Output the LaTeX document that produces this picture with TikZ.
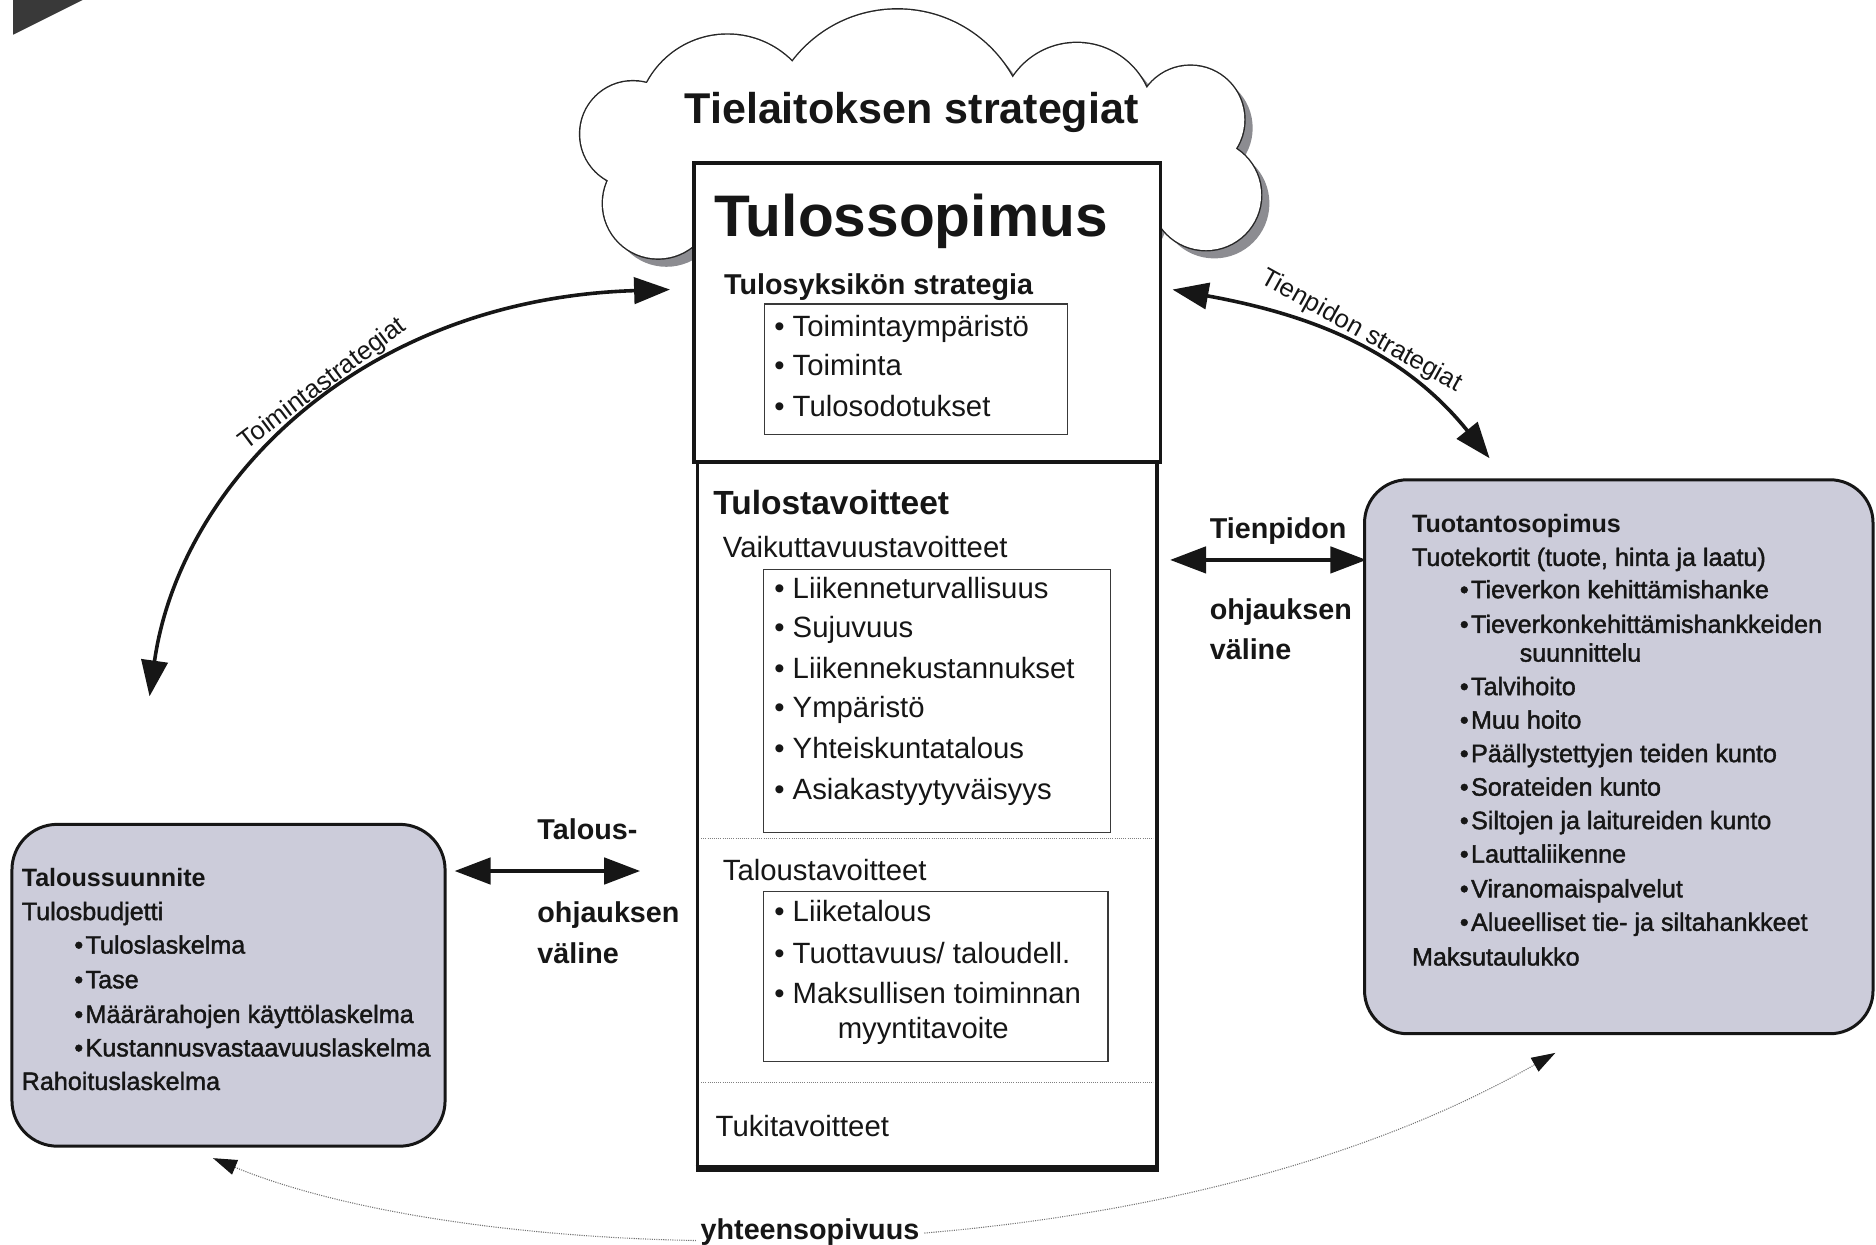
\documentclass[tikz,border=0pt]{standalone}
\usepackage{fontspec}
\setmainfont{Liberation Sans}
\newfontfamily\sidefont[FakeBold=1.6]{Liberation Sans}
\usetikzlibrary{arrows.meta}
\definecolor{boxfill}{RGB}{204,204,218}
\definecolor{ink}{RGB}{22,22,22}
\definecolor{shadowgray}{RGB}{140,140,145}
\newcommand\cloudpts{(550,170) circle[radius=46] (529,112) circle[radius=44] (608,105) circle[radius=76] (750,118) circle[radius=110] (640,150) circle[radius=60] (590,140) circle[radius=40] (900,100) circle[radius=64] (995,100) circle[radius=45] (1008,163) circle[radius=46] (900,160) circle[radius=72]}
\begin{document}
\begin{tikzpicture}[x=1pt,y=-1pt,
  every node/.style={inner sep=0pt, text=ink},
  mainbox/.style={draw=ink, line width=3pt, fill=white, rectangle},
  innerbox/.style={draw=ink!85, line width=1.1pt, rectangle},
  sidebox/.style={draw=ink, line width=2.5pt, fill=boxfill, rounded corners=38pt, rectangle},
  ct/.style={anchor=base west, font=\fontsize{24.5}{29}\selectfont},
  st/.style={anchor=base west, font=\sidefont\fontsize{21}{25}\selectfont},
  stb/.style={anchor=base west, font=\bfseries\fontsize{21}{25}\selectfont},
  lbl/.style={anchor=base west, font=\bfseries\fontsize{24}{28}\selectfont},
  arclbl/.style={font=\fontsize{21.5}{25}\selectfont},
  bigarrow/.style={draw=ink, line width=3pt, {Triangle[length=30pt,width=22pt]}-{Triangle[length=30pt,width=22pt]}},
  dotarrow/.style={draw=black!55, line width=0.9pt, densely dotted, {Triangle[length=20pt,width=13pt,color=ink]}-{Triangle[length=20pt,width=13pt,color=ink]}},
  divider/.style={draw=black!50, line width=0.8pt, densely dotted}
]
\useasboundingbox (0,0) rectangle (1568,1040);

% corner wedge
\fill[ink!85] (11,0) -- (69,0) -- (11,29) -- cycle;

% cloud
\begin{scope}[shift={(7,7)}]
  \fill[shadowgray] \cloudpts;
\end{scope}
\draw[black!85, line width=2.4pt] \cloudpts;
\fill[white] \cloudpts;
\node[anchor=base west, font=\bfseries\fontsize{36}{40}\selectfont] (cloudtitle) at (572,103) {Tielaitoksen strategiat};

% central boxes
\node[mainbox, minimum width=390pt, minimum height=250pt] (topbox) at (775,261) {};
\node[mainbox, minimum width=384pt, minimum height=589pt] (botbox) at (775,680.5) {};
\draw[ink, line width=5.5pt] (botbox.south west) -- (botbox.south east);
\node[innerbox, minimum width=253pt, minimum height=109pt] (inner1) at (765.5,308.5) {};
\node[innerbox, minimum width=290pt, minimum height=220pt] (inner2) at (783,586) {};
\node[innerbox, minimum width=288pt, minimum height=142pt] (inner3) at (782,816) {};
\coordinate (dv1l) at (586,701); \coordinate (dv1r) at (964,701);
\coordinate (dv2l) at (586,905); \coordinate (dv2r) at (964,905);
\draw[divider] (dv1l) -- (dv1r);
\draw[divider] (dv2l) -- (dv2r);

\node[anchor=base west, font=\bfseries\fontsize{49}{55}\selectfont] (ttl) at (597,198) {Tulossopimus};
\node[anchor=base west, font=\bfseries\fontsize{24}{28}\selectfont] (tys) at (605,246) {Tulosyksikön strategia};
\node[ct] (i11) at (647,281) {• Toimintaympäristö};
\node[ct] (i12) at (647,314) {• Toiminta};
\node[ct] (i13) at (647,348) {• Tulosodotukset};

\node[anchor=base west, font=\bfseries\fontsize{28}{32}\selectfont] (tt) at (596,430) {Tulostavoitteet};
\node[ct] (vt) at (604,466) {Vaikuttavuustavoitteet};
\node[ct] (i21) at (647,500) {• Liikenneturvallisuus};
\node[ct] (i22) at (647,533) {• Sujuvuus};
\node[ct] (i23) at (647,567) {• Liikennekustannukset};
\node[ct] (i24) at (647,600) {• Ympäristö};
\node[ct] (i25) at (647,634) {• Yhteiskuntatalous};
\node[ct] (i26) at (647,668) {• Asiakastyytyväisyys};

\node[ct] (talt) at (604,736) {Taloustavoitteet};
\node[ct] (i31) at (647,770) {• Liiketalous};
\node[ct] (i32) at (647,805) {• Tuottavuus/ taloudell.};
\node[ct] (i33) at (647,839) {• Maksullisen toiminnan};
\node[ct] (i34) at (700,868) {myyntitavoite};

\node[ct] (tuki) at (598,950) {Tukitavoitteet};

% left box
\node[sidebox, minimum width=362pt, minimum height=269pt] (leftbox) at (191,823.5) {};
\node[stb] (l1) at (18,741) {Taloussuunnite};
\node[st] (l2) at (18,769) {Tulosbudjetti};
\node[st] (l3) at (62,797) {•\kern2pt Tuloslaskelma};
\node[st] (l4) at (62,826) {•\kern2pt Tase};
\node[st] (l5) at (62,855) {•\kern2pt Määrärahojen käyttölaskelma};
\node[st] (l6) at (62,883) {•\kern2pt Kustannusvastaavuuslaskelma};
\node[st] (l7) at (18,911) {Rahoituslaskelma};

% right box
\node[sidebox, rounded corners=36pt, minimum width=425pt, minimum height=463pt] (rightbox) at (1353,632.5) {};
\node[stb] (r1) at (1180,445) {Tuotantosopimus};
\node[st] (r2) at (1180,473) {Tuotekortit (tuote, hinta ja laatu)};
\node[st] (r3) at (1220,500) {•\kern2pt Tieverkon kehittämishanke};
\node[st] (r4) at (1220,529) {•\kern2pt Tieverkonkehittämishankkeiden};
\node[st] (r5) at (1270,553) {suunnittelu};
\node[st] (r6) at (1220,581) {•\kern2pt Talvihoito};
\node[st] (r7) at (1220,609) {•\kern2pt Muu hoito};
\node[st] (r8) at (1220,637) {•\kern2pt Päällystettyjen teiden kunto};
\node[st] (r9) at (1220,665) {•\kern2pt Sorateiden kunto};
\node[st] (r10) at (1220,693) {•\kern2pt Siltojen ja laitureiden kunto};
\node[st] (r11) at (1220,721) {•\kern2pt Lauttaliikenne};
\node[st] (r12) at (1220,750) {•\kern2pt Viranomaispalvelut};
\node[st] (r13) at (1220,778) {•\kern2pt Alueelliset tie- ja siltahankkeet};
\node[st] (r14) at (1180,807) {Maksutaulukko};

% curved arrows
\coordinate (a1s) at (125,582);
\coordinate (a1e) at (560,242);
\draw[bigarrow] (a1s) .. controls (150,405) and (300,250) .. (a1e);
\node[arclbl, rotate=37] (lblT) at (270,321) {Toimintastrategiat};

\coordinate (a2s) at (980,242);
\coordinate (a2e) at (1245,383);
\draw[bigarrow] (a2s) .. controls (1090,262) and (1170,290) .. (a2e);
\node[arclbl, rotate=-29] (lblP) at (1138,277) {Tienpidon strategiat};

% horizontal arrows
\coordinate (h1l) at (978,468);
\coordinate (h1r) at (1142,468);
\draw[bigarrow] (h1l) -- (h1r);
\node[lbl] (tp1) at (1011,450) {Tienpidon};
\node[lbl] (tp2) at (1011,518) {ohjauksen};
\node[lbl] (tp3) at (1011,551) {väline};

\coordinate (h2l) at (380,728);
\coordinate (h2r) at (535,728);
\draw[bigarrow] (h2l) -- (h2r);
\node[lbl] (ta1) at (449,702) {Talous-};
\node[lbl] (ta2) at (449,771) {ohjauksen};
\node[lbl] (ta3) at (449,805) {väline};

% compatibility arrow
\coordinate (d1) at (178,968);
\coordinate (d2) at (1300,880);
\draw[dotarrow] (d1) .. controls (400,1060) and (950,1080) .. (d2);
\node[anchor=base, fill=white, inner sep=4pt, font=\bfseries\fontsize{24}{28}\selectfont] (yht) at (677,1036) {yhteensopivuus};
\end{tikzpicture}
\end{document}
